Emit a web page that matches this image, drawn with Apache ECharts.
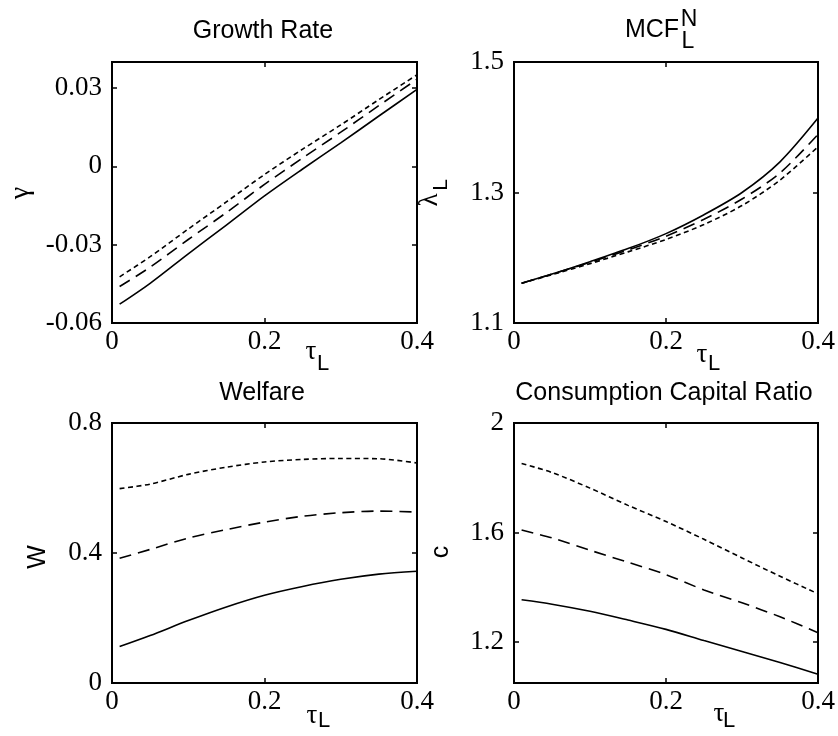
<!DOCTYPE html>
<html>
<head>
<meta charset="utf-8">
<script src="https://cdn.jsdelivr.net/npm/echarts@6/dist/echarts.min.js"></script>
<style>html,body{margin:0;padding:0;background:#fff}#c{width:838px;height:736px}</style>
</head>
<body>
<div id="c"></div>
<script>
// ---- data ----
const tau = [0.01, 0.05, 0.1, 0.15, 0.2, 0.25, 0.3, 0.35, 0.4];

const growthSolid  = [-0.0528, -0.0448, -0.0335, -0.0225, -0.0113, -0.0010, 0.0090, 0.0193, 0.0295];
const growthDashed = [-0.0460, -0.0386, -0.0280, -0.0177, -0.0069, 0.0032, 0.0131, 0.0233, 0.0334];
const growthDotted = [-0.0423, -0.0346, -0.0240, -0.0136, -0.0031, 0.0066, 0.0159, 0.0256, 0.0351];

const mcfSolid  = [1.161, 1.175, 1.194, 1.214, 1.237, 1.266, 1.300, 1.347, 1.414];
const mcfDashed = [1.161, 1.175, 1.193, 1.212, 1.233, 1.259, 1.290, 1.330, 1.389];
const mcfDotted = [1.161, 1.174, 1.191, 1.209, 1.228, 1.251, 1.280, 1.319, 1.370];

const welfareSolid  = [0.112, 0.146, 0.192, 0.234, 0.270, 0.297, 0.319, 0.335, 0.344];
const welfareDashed = [0.384, 0.411, 0.446, 0.472, 0.495, 0.513, 0.524, 0.529, 0.526];
const welfareDotted = [0.598, 0.612, 0.642, 0.664, 0.680, 0.688, 0.691, 0.690, 0.677];

const ccrSolid  = [1.354, 1.338, 1.312, 1.280, 1.246, 1.205, 1.165, 1.125, 1.082];
const ccrDashed = [1.609, 1.580, 1.535, 1.491, 1.446, 1.390, 1.343, 1.292, 1.234];
const ccrDotted = [1.852, 1.819, 1.762, 1.699, 1.640, 1.575, 1.507, 1.440, 1.376];

const xTicks = [0, 0.2, 0.4];
const yTicksGrowth = [-0.06, -0.03, 0, 0.03];
const yTicksMcf = [1.1, 1.3, 1.5];
const yTicksWelfare = [0, 0.4, 0.8];
const yTicksCcr = [1.2, 1.6, 2];

const titles = ['Growth Rate', 'MCF', 'Welfare', 'Consumption Capital Ratio'];

// ---- layout ----
const grids = [
  {left: 112, top: 62, width: 305, height: 261},
  {left: 514, top: 62, width: 304, height: 261},
  {left: 112, top: 423, width: 305, height: 260},
  {left: 514, top: 423, width: 304, height: 260}
];
const yRanges = [[-0.06, 0.04], [1.1, 1.5], [0, 0.8], [1.05, 2]];
const yTicks = [yTicksGrowth, yTicksMcf, yTicksWelfare, yTicksCcr];
const seriesSets = [
  [growthSolid, growthDashed, growthDotted],
  [mcfSolid, mcfDashed, mcfDotted],
  [welfareSolid, welfareDashed, welfareDotted],
  [ccrSolid, ccrDashed, ccrDotted]
];
const lineTypes = ['solid', [12, 7], [5, 3.5]];

const serif = '"Liberation Serif", "Times New Roman", serif';
const sans = '"Liberation Sans", Arial, sans-serif';

const xAxes = [], yAxes = [], series = [];
function tickCommon(vals) {
  return {show: true, inside: true, length: 5, customValues: vals, lineStyle: {color: '#000', width: 1.5}};
}
for (let i = 0; i < 4; i++) {
  xAxes.push({
    type: 'value', gridIndex: i, position: 'bottom', min: 0, max: 0.4,
    axisLine: {show: false, onZero: false}, splitLine: {show: false},
    axisTick: tickCommon(xTicks),
    axisLabel: {customValues: xTicks, color: '#000', fontFamily: serif, fontSize: 27, margin: 5}
  });
  yAxes.push({
    type: 'value', gridIndex: i, position: 'left', min: yRanges[i][0], max: yRanges[i][1],
    axisLine: {show: false, onZero: false}, splitLine: {show: false},
    axisTick: tickCommon(yTicks[i]),
    axisLabel: {customValues: yTicks[i], color: '#000', fontFamily: serif, fontSize: 27, margin: 10}
  });
}
for (let i = 0; i < 4; i++) {
  xAxes.push({
    type: 'value', gridIndex: i, position: 'top', min: 0, max: 0.4,
    axisLine: {show: false, onZero: false}, splitLine: {show: false},
    axisTick: tickCommon(xTicks),
    axisLabel: {show: false}
  });
  yAxes.push({
    type: 'value', gridIndex: i, position: 'right', min: yRanges[i][0], max: yRanges[i][1],
    axisLine: {show: false, onZero: false}, splitLine: {show: false},
    axisTick: tickCommon(yTicks[i]),
    axisLabel: {show: false}
  });
}
for (let i = 0; i < 4; i++) {
  seriesSets[i].forEach((vals, k) => {
    series.push({
      type: 'line', xAxisIndex: i, yAxisIndex: i, showSymbol: false, smooth: 0.3,
      data: tau.map((t, j) => [t, vals[j]]),
      lineStyle: {color: '#000', width: 1.6, type: lineTypes[k]},
      silent: true
    });
  });
}

function txt(x, y, text, size, family, rot) {
  return {type: 'text', x: x, y: y, rotation: rot || 0, silent: true,
    style: {text: text, fontSize: size, fontFamily: family, fill: '#000', align: 'center', verticalAlign: 'middle'}};
}
const graphics = [
  txt(263, 31, titles[0], 25, sans),
  txt(652, 30, titles[1], 25, sans),
  txt(689, 20, 'N', 23, sans),
  txt(688, 42, 'L', 23, sans),
  txt(262, 393, titles[2], 25, sans),
  txt(664, 393, titles[3], 25, sans),
  // y names
  txt(21, 193, 'γ', 28, serif, Math.PI / 2),
  txt(430, 200, 'λ', 27, serif, Math.PI / 2),
  txt(441, 185, 'L', 21, sans, Math.PI / 2),
  txt(38, 557, 'W', 25, sans, Math.PI / 2),
  txt(441, 552, 'c', 25, sans, Math.PI / 2),
  // x names
  txt(311, 352, 'τ', 27, serif), txt(323, 364, 'L', 22, sans),
  txt(702, 355, 'τ', 27, serif), txt(714, 364, 'L', 22, sans),
  txt(312, 716, 'τ', 27, serif), txt(324, 721, 'L', 22, sans),
  txt(719, 714, 'τ', 27, serif), txt(729, 721, 'L', 22, sans)
];

const chart = echarts.init(document.getElementById('c'), null, {renderer: 'canvas'});
chart.setOption({
  animation: false,
  backgroundColor: '#fff',
  grid: grids.map(g => Object.assign({show: true, borderColor: '#000', borderWidth: 2, backgroundColor: 'transparent'}, g)),
  xAxis: xAxes,
  yAxis: yAxes,
  series: series,
  graphic: graphics
});
</script>
</body>
</html>
